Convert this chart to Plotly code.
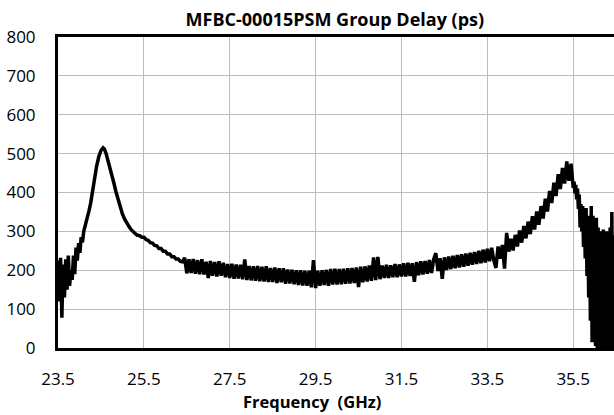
import plotly.graph_objects as go

# ---------------- data ----------------
# noisy start of the sweep: 23.50 GHz, step 0.03 GHz
start_f0, start_step = 23.50, 0.03
start_vals = [225, 120, 232, 78, 215, 130, 228, 150, 238, 160, 200, 175, 238, 190,
              258, 225, 270, 245, 285, 272, 300]

# first resonance peak (smooth)
peak_f = [24.13, 24.16, 24.19, 24.22, 24.26, 24.30, 24.35, 24.40, 24.45, 24.50, 24.55,
          24.58, 24.62, 24.66, 24.70, 24.75, 24.80, 24.85, 24.90, 24.95, 25.00, 25.05,
          25.10, 25.15, 25.20, 25.25]
peak_vals = [312, 322, 340, 352, 372, 400, 438, 468, 492, 508, 515, 512, 500, 485, 468,
             448, 425, 402, 380, 362, 345, 332, 321, 313, 305, 298]

# decay after the first peak: 25.30 GHz, step 0.05 GHz
decay_f0, decay_step = 25.30, 0.05
decay_vals = [294, 290, 289, 285, 285, 279, 277, 271, 270, 264, 263, 256, 256, 249, 249,
              242, 242, 235, 235, 229, 229, 223, 222]

# flat noisy band: 26.45 GHz, step 0.05 GHz
flat_f0, flat_step = 26.45, 0.05
flat_vals = [232, 192, 228, 193, 229, 191, 226, 190, 228, 189,
             222, 180, 224, 186, 221, 184, 223, 186, 219, 182,
             216, 180, 217, 178, 215, 179, 214, 177, 228, 175,
             211, 174, 210, 173, 211, 172, 209, 171, 210, 170,
             206, 170, 207, 167, 205, 169, 205, 165, 202, 166,
             201, 164, 200, 162, 200, 161, 199, 160, 199, 156,
             226, 154, 199, 160, 200, 162, 201, 160, 203, 163,
             204, 163, 203, 164, 204, 165, 205, 166, 206, 167,
             207, 157, 209, 169, 210, 171, 212, 173, 233, 175,
             234, 177]

# rising noisy band to the second peak: 31.05 GHz, step 0.05 GHz
rise_f0, rise_step = 31.05, 0.05
rise_vals = [212, 180, 214, 180, 213, 182, 216, 182, 215, 184,
             218, 184, 219, 185, 218, 170, 221, 187, 223, 189,
             224, 191, 226, 193, 228, 244, 198, 231, 178, 233,
             201, 235, 203, 237, 205, 239, 207, 241, 209, 243,
             212, 245, 214, 247, 216, 250, 218, 253, 220, 255,
             223, 258, 226, 206, 261, 230, 265, 204, 296, 248,
             281, 251, 291, 261, 302, 271, 314, 282, 325, 293,
             339, 305, 351, 317, 365, 333, 384, 351, 404, 373,
             425, 391, 447, 409, 463, 423, 480, 430, 474]

# wild tail after the second peak: 35.48 GHz, step 0.02 GHz
tail_f0, tail_step = 35.48, 0.02
tail_vals = [432, 412, 428, 398, 420, 382, 410, 358, 395, 310,
             370, 300, 365, 260, 350, 230, 360, 185, 340, 130,
             330, 70, 365, 15, 340, 40, 330, 5, 335, 0,
             310, 20, 300, 0, 290, 60, 305, 0, 280, 30,
             300, 0, 270, 10, 310, 0, 350, 20, 290, 0]

x_ticks = [23.5, 25.5, 27.5, 29.5, 31.5, 33.5, 35.5]
x_tick_labels = ["23.5", "25.5", "27.5", "29.5", "31.5", "33.5", "35.5"]
y_ticks = [0, 100, 200, 300, 400, 500, 600, 700, 800]
y_tick_labels = ["0", "100", "200", "300", "400", "500", "600", "700", "800"]

title_text = "MFBC-00015PSM Group Delay (ps)"
x_title_text = "Frequency\u00a0 (GHz)"


def seg(f0, step, vals):
    return [round(f0 + step * i, 3) for i in range(len(vals))]


freq = (seg(start_f0, start_step, start_vals) + peak_f
        + seg(decay_f0, decay_step, decay_vals)
        + seg(flat_f0, flat_step, flat_vals)
        + seg(rise_f0, rise_step, rise_vals)
        + seg(tail_f0, tail_step, tail_vals))
delay = start_vals + peak_vals + decay_vals + flat_vals + rise_vals + tail_vals

# ---------------- figure ----------------
FONT = "Open Sans"
W, H = 614, 415
fig = go.Figure()
fig.add_trace(go.Scatter(x=freq, y=delay, mode="lines",
                         line=dict(color="black", width=3.5),
                         hoverinfo="skip", showlegend=False))

fig.update_layout(
    width=W, height=H,
    margin=dict(l=58, r=0, t=37, b=67, autoexpand=False),
    paper_bgcolor="white", plot_bgcolor="white",
    font=dict(family=FONT, size=17, color="black"),
    title=dict(text="<b>" + title_text + "</b>", x=0.498, xref="paper", xanchor="center",
               y=1 - 20 / H, yref="container", yanchor="middle",
               font=dict(family=FONT, size=18, color="black")),
    showlegend=False,
)
fig.update_xaxes(range=[23.5, 36.45], tickvals=x_ticks, ticktext=x_tick_labels,
                 showgrid=True, gridcolor="#BDBDBD", gridwidth=1,
                 showline=True, linecolor="black", linewidth=3, mirror=True,
                 ticks="", ticklabelstandoff=14, zeroline=False, automargin=False,
                 tickfont=dict(family=FONT, size=17, color="black"))
fig.update_yaxes(range=[0, 800], tickvals=y_ticks, ticktext=y_tick_labels,
                 showgrid=True, gridcolor="#BDBDBD", gridwidth=1,
                 showline=True, linecolor="black", linewidth=3, mirror=False,
                 ticks="", ticklabelstandoff=16, zeroline=False, automargin=False,
                 tickfont=dict(family=FONT, size=17, color="black"))
fig.add_annotation(text="<b>" + x_title_text + "</b>", xref="paper", yref="paper",
                   x=(312 - 58) / 556, y=0, xanchor="center", yanchor="top",
                   yshift=-40, showarrow=False,
                   font=dict(family=FONT, size=16.5, color="black"))

# remove the default 8px page margin so the figure sits at the window's corner
fig.write_html("out.html",
               config={"displayModeBar": False, "staticPlot": True},
               post_script="document.body.style.margin='0';"
                           "document.documentElement.style.overflow='hidden';")
